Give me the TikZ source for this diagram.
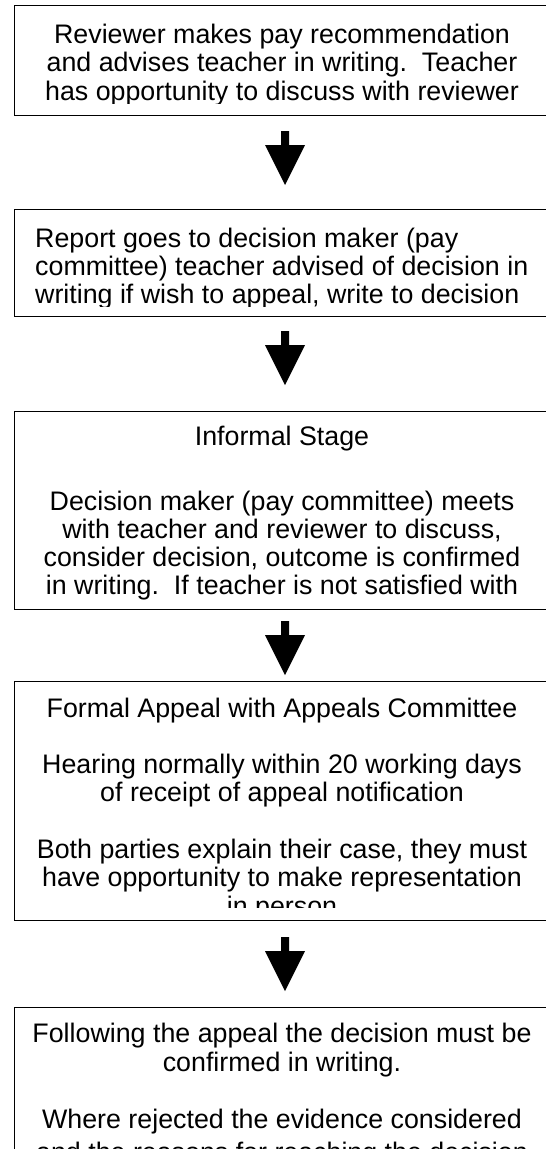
\documentclass[tikz,border=0pt]{standalone}
\usepackage{fontspec}
\setmainfont{Liberation Sans}
\begin{document}
\begin{tikzpicture}[x=1pt,y=-1pt,
  box/.style={draw=black,line width=1.2pt,anchor=north west,inner sep=0pt,minimum width=542pt},
  txt/.style={anchor=base,inner sep=0pt,font=\fontsize{26.8}{28.5}\selectfont},
  txl/.style={anchor=base west,inner sep=0pt,font=\fontsize{26.8}{28.5}\selectfont},
  blockarrow/.pic={\fill[black] (-4,0) -- (4,0) -- (4,14) -- (20,14) -- (0,54) -- (-20,14) -- (-4,14) -- cycle;}
]
\useasboundingbox (0,0) rectangle (546,1149);
\fill[white] (0,0) rectangle (546,1149);

% boxes
\node[box,minimum height=110pt] (b1) at (14,5) {};
\node[box,minimum height=107pt] (b2) at (14,209) {};
\node[box,minimum height=198pt] (b3) at (14,411) {};
\node[box,minimum height=239pt] (b4) at (14,681) {};
\node[box,minimum height=200pt] (b5) at (14,1007) {};

% box 1 text
\begin{scope}
\clip (14,5) rectangle (556,103.5);
\node[txt] (t1a) at (282,43) {Reviewer makes pay recommendation};
\node[txt] (t1b) at (282,71.5) {and advises teacher in writing.\ \ Teacher};
\node[txt] (t1c) at (282,100) {has opportunity to discuss with reviewer};
\end{scope}

% box 2 text
\begin{scope}
\clip (14,209) rectangle (556,306);
\node[txl] (t2a) at (35,247) {Report goes to decision maker (pay};
\node[txl] (t2b) at (35,275) {committee) teacher advised of decision in};
\node[txl] (t2c) at (35,303) {writing if wish to appeal, write to decision};
\end{scope}

% box 3 text
\begin{scope}
\clip (14,411) rectangle (556,601);
\node[txt] (t3a) at (282,445) {Informal Stage};
\node[txt] (t3b) at (282,510) {Decision maker (pay committee) meets};
\node[txt] (t3c) at (282,538) {with teacher and reviewer to discuss,};
\node[txt] (t3d) at (282,566) {consider decision, outcome is confirmed};
\node[txt] (t3e) at (282,594) {in writing.\ \ If teacher is not satisfied with};
\end{scope}

% box 4 text
\begin{scope}
\clip (14,681) rectangle (556,907);
\node[txt] (t4a) at (282,717) {Formal Appeal with Appeals Committee};
\node[txt] (t4b) at (282,773) {Hearing normally within 20 working days};
\node[txt] (t4c) at (282,801) {of receipt of appeal notification};
\node[txt] (t4d) at (282,858) {Both parties explain their case, they must};
\node[txt] (t4e) at (282,886) {have opportunity to make representation};
\node[txt] (t4f) at (282,915) {in person};
\end{scope}

% box 5 text
\begin{scope}
\clip (14,1007) rectangle (556,1149);
\node[txt] (t5a) at (282,1042) {Following the appeal the decision must be};
\node[txt] (t5b) at (282,1071) {confirmed in writing.};
\node[txt] (t5c) at (282,1128) {Where rejected the evidence considered};
\node[txt] (t5d) at (282,1161) {and the reasons for reaching the decision};
\end{scope}

% block arrows
\coordinate (a1) at (285,131);
\coordinate (a2) at (285,331);
\coordinate (a3) at (285,621);
\coordinate (a4) at (285,937);
\pic at (a1) {blockarrow};
\pic at (a2) {blockarrow};
\pic at (a3) {blockarrow};
\pic at (a4) {blockarrow};
\end{tikzpicture}
\end{document}
